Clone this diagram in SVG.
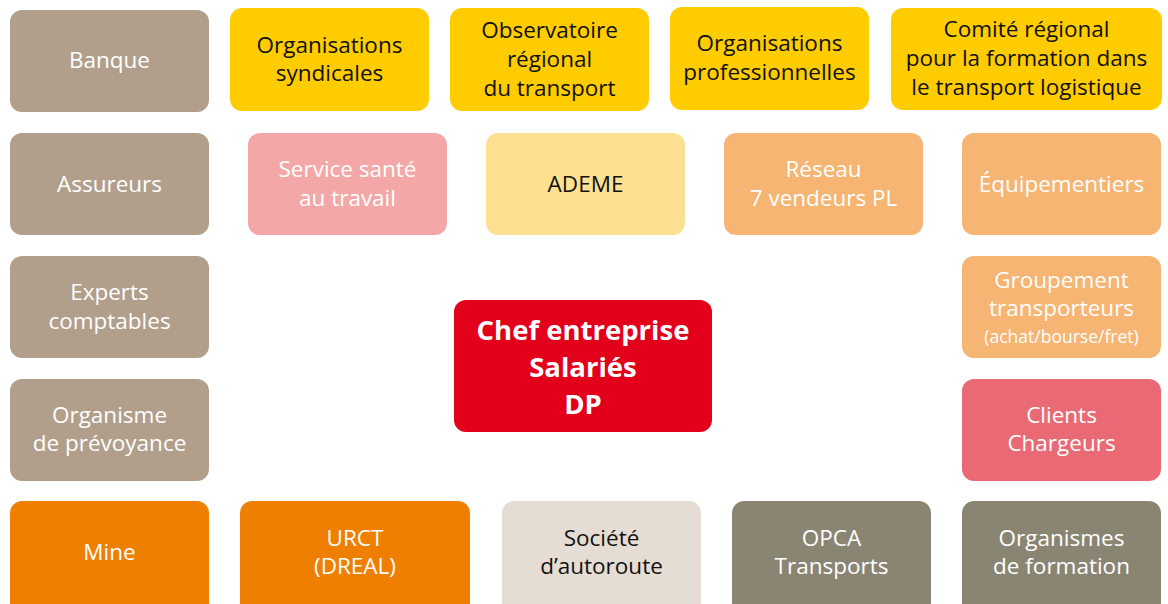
<svg xmlns="http://www.w3.org/2000/svg" width="1168" height="604" viewBox="0 0 1168 604">
  <style>
    .box { stroke: none; }
    .tan { fill: #b19f8b; }
    .yellow { fill: #ffcc00; }
    .pink { fill: #f3a8a7; }
    .paleyellow { fill: #fde092; }
    .apricot { fill: #f6b572; }
    .red { fill: #e2001a; }
    .rose { fill: #e96a75; }
    .orange { fill: #ef7f00; }
    .beige { fill: #e5ddd3; }
    .olive { fill: #8a8573; }
    text { font-family: "Open Sans", "Liberation Sans", sans-serif; font-size: 22.5px; text-anchor: middle; }
    .w { fill: #ffffff; }
    .k { fill: #111111; }
    .small { font-size: 17.5px; }
    .bold { font-weight: bold; font-size: 27.5px; }
  </style>

  <!-- top row -->
  <g id="banque"><rect class="box tan" x="10" y="10" width="199" height="102" rx="12"/><text class="w" x="109.5" y="68">Banque</text></g>
  <g id="org-syndicales"><rect class="box yellow" x="230" y="8" width="199" height="103" rx="12"/><text class="k" x="329.5" y="53">Organisations</text><text class="k" x="329.5" y="81">syndicales</text></g>
  <g id="observatoire"><rect class="box yellow" x="450" y="8" width="199" height="103" rx="12"/><text class="k" x="549.5" y="38">Observatoire</text><text class="k" x="549.5" y="67">régional</text><text class="k" x="549.5" y="96">du transport</text></g>
  <g id="org-professionnelles"><rect class="box yellow" x="670" y="7" width="199" height="103" rx="12"/><text class="k" x="769.5" y="51">Organisations</text><text class="k" x="769.5" y="80">professionnelles</text></g>
  <g id="comite-regional"><rect class="box yellow" x="891" y="8" width="271" height="102" rx="12"/><text class="k" x="1026.5" y="37">Comité régional</text><text class="k" x="1026.5" y="66">pour la formation dans</text><text class="k" x="1026.5" y="95">le transport logistique</text></g>

  <!-- second row -->
  <g id="assureurs"><rect class="box tan" x="10" y="133" width="199" height="102" rx="12"/><text class="w" x="109.5" y="192">Assureurs</text></g>
  <g id="sante-travail"><rect class="box pink" x="248" y="133" width="199" height="102" rx="12"/><text class="w" x="347.5" y="177">Service santé</text><text class="w" x="347.5" y="206">au travail</text></g>
  <g id="ademe"><rect class="box paleyellow" x="486" y="133" width="199" height="102" rx="12"/><text class="k" x="585.5" y="192">ADEME</text></g>
  <g id="reseau"><rect class="box apricot" x="724" y="133" width="199" height="102" rx="12"/><text class="w" x="823.5" y="177">Réseau</text><text class="w" x="823.5" y="206">7 vendeurs PL</text></g>
  <g id="equipementiers"><rect class="box apricot" x="962" y="133" width="199" height="102" rx="12"/><text class="w" x="1061.5" y="192">Équipementiers</text></g>

  <!-- middle rows -->
  <g id="experts-comptables"><rect class="box tan" x="10" y="256" width="199" height="102" rx="12"/><text class="w" x="109.5" y="300">Experts</text><text class="w" x="109.5" y="329">comptables</text></g>
  <g id="groupement"><rect class="box apricot" x="962" y="256" width="199" height="102" rx="12"/><text class="w" x="1061.5" y="288">Groupement</text><text class="w" x="1061.5" y="316">transporteurs</text><text class="w small" x="1061.5" y="343">(achat/bourse/fret)</text></g>
  <g id="prevoyance"><rect class="box tan" x="10" y="379" width="199" height="102" rx="12"/><text class="w" x="109.5" y="423">Organisme</text><text class="w" x="109.5" y="451">de prévoyance</text></g>
  <g id="clients"><rect class="box rose" x="962" y="379" width="199" height="102" rx="12"/><text class="w" x="1061.5" y="423">Clients</text><text class="w" x="1061.5" y="451">Chargeurs</text></g>

  <!-- centre -->
  <g id="entreprise"><rect class="box red" x="454" y="300" width="258" height="132" rx="12"/><text class="w bold" x="583" y="340">Chef entreprise</text><text class="w bold" x="583" y="377">Salariés</text><text class="w bold" x="583" y="414">DP</text></g>

  <!-- bottom row -->
  <g id="mine"><rect class="box orange" x="10" y="501" width="199" height="115" rx="12"/><text class="w" x="109.5" y="560">Mine</text></g>
  <g id="urct"><rect class="box orange" x="240" y="501" width="230" height="115" rx="12"/><text class="w" x="355" y="546">URCT</text><text class="w" x="355" y="574">(DREAL)</text></g>
  <g id="autoroute"><rect class="box beige" x="502" y="501" width="199" height="115" rx="12"/><text class="k" x="601.5" y="546">Société</text><text class="k" x="601.5" y="574">d’autoroute</text></g>
  <g id="opca"><rect class="box olive" x="732" y="501" width="199" height="115" rx="12"/><text class="w" x="831.5" y="546">OPCA</text><text class="w" x="831.5" y="574">Transports</text></g>
  <g id="organismes-formation"><rect class="box olive" x="962" y="501" width="199" height="115" rx="12"/><text class="w" x="1061.5" y="546">Organismes</text><text class="w" x="1061.5" y="574">de formation</text></g>

  <g id="connectors"/>
</svg>
